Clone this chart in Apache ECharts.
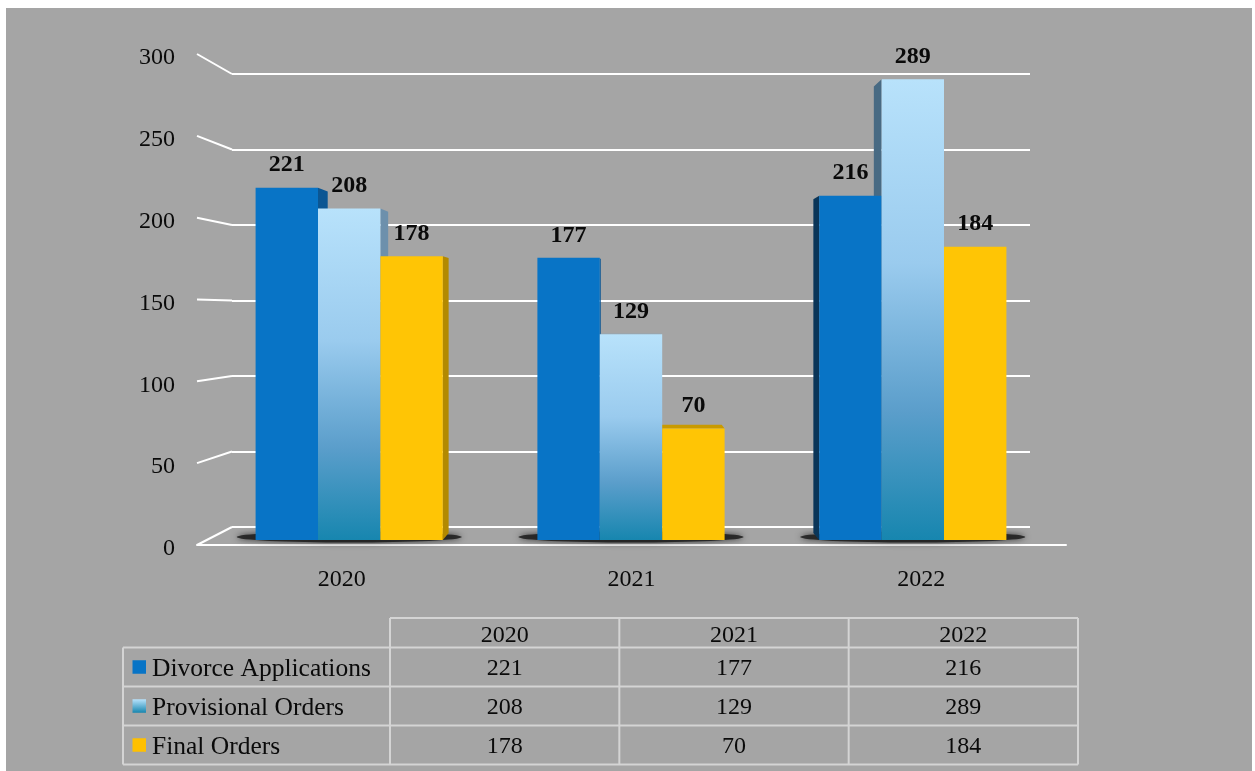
<!DOCTYPE html>
<html>
<head>
<meta charset="utf-8">
<title>Divorce Applications, Provisional and Final Orders</title>
<script src="https://cdn.jsdelivr.net/npm/echarts@6/dist/echarts.min.js"></script>
<style>
  html, body { margin: 0; padding: 0; background: #ffffff; }
  #panel { position: absolute; left: 6px; top: 8px; width: 1246px; height: 763px; background: #a5a5a5; }
  #chart { position: absolute; left: 0; top: 0; width: 1255px; height: 771px; }
</style>
</head>
<body>
<div id="panel"></div>
<div id="chart"></div>
<script>
// ---- data ----
const categories = ['2020', '2021', '2022'];
const seriesNames = ['Divorce Applications', 'Provisional Orders', 'Final Orders'];
const divorceApplications = [221, 177, 216];
const provisionalOrders = [208, 129, 289];
const finalOrders = [178, 70, 184];
const valueTicks = [0, 50, 100, 150, 200, 250, 300];

// ---- styling / layout ----
const FONT = "'Liberation Serif'";
const TEXT_COLOR = '#0a0a0a';
const GRID_FRONT = { left: 197, top: 54, width: 869, height: 491 };   // front edge of the floor / axis labels
const GRID_BACK = { left: 232, top: 74, width: 798, height: 453 };    // back wall with gridlines
const GRID_BARS = { left: 208.3, top: 61.8, width: 845.4, height: 478.2 }; // plane of the bar front faces
const GROUP_GAP = 0.3357;       // share of each category band left empty
const VANISH = [1, 142.4];      // vanishing point in bar-plane data coordinates
const DEPTH = 0.969;            // perspective shrink of the bar back faces

const palettes = [
  { front: '#0874c6', sideR: '#0b5693', sideL: '#0a3558', top: '#0a5a99', key: '#0874c6' },
  {
    front: { type: 'linear', x: 0, y: 0, x2: 0, y2: 1, colorStops: [
      { offset: 0, color: '#b8e2fb' }, { offset: 0.4, color: '#9acbee' },
      { offset: 0.72, color: '#5b9ecb' }, { offset: 1, color: '#1786af' } ] },
    sideR: '#6d90ac', sideL: '#486a83', top: '#7fa7c4',
    key: { type: 'linear', x: 0, y: 0, x2: 0, y2: 1, colorStops: [
      { offset: 0, color: '#b8e2fb' }, { offset: 1, color: '#1786af' } ] }
  },
  { front: '#ffc505', sideR: '#b38900', sideL: '#9c7700', top: '#c99a00', key: '#ffc000' }
];
const seriesValues = [divorceApplications, provisionalOrders, finalOrders];

function barRenderer(seriesIdx) {
  const pal = palettes[seriesIdx];
  return function (params, api) {
    const cat = api.value(0);
    const val = api.value(1);
    const band = api.size([1, 0])[0];
    const barW = band * (1 - GROUP_GAP) / 3;
    const base = api.coord([cat, 0]);
    const topPt = api.coord([cat, val]);
    const x0 = base[0] - 1.5 * barW + seriesIdx * barW;
    const x1 = x0 + barW;
    const yT = topPt[1];
    const yB = base[1];
    const vp = api.coord(VANISH);
    const back = (x, y) => [vp[0] + (x - vp[0]) * DEPTH, vp[1] + (y - vp[1]) * DEPTH];
    const children = [];
    if (x1 < vp[0]) {
      children.push({ type: 'polygon', z2: 1,
        shape: { points: [[x1, yT], back(x1, yT), back(x1, yB), [x1, yB]] },
        style: { fill: pal.sideR } });
    } else if (x0 > vp[0]) {
      children.push({ type: 'polygon', z2: 1,
        shape: { points: [[x0, yT], back(x0, yT), back(x0, yB), [x0, yB]] },
        style: { fill: pal.sideL } });
    }
    if (yT > vp[1]) {
      children.push({ type: 'polygon', z2: 1,
        shape: { points: [[x0, yT], [x1, yT], back(x1, yT), back(x0, yT)] },
        style: { fill: pal.top } });
    }
    children.push({ type: 'rect', z2: 5,
      shape: { x: x0, y: yT, width: barW, height: yB - yT },
      style: { fill: pal.front } });
    children.push({ type: 'text', z2: 10,
      style: { text: String(val), x: (x0 + x1) / 2, y: yT - 22.5,
        fill: TEXT_COLOR, fontFamily: FONT, fontSize: 24, fontWeight: 'bold',
        align: 'center', verticalAlign: 'middle' } });
    return { type: 'group', children: children };
  };
}

function shadowRenderer(params, api) {
  const cat = api.value(0);
  const band = api.size([1, 0])[0];
  const barW = band * (1 - GROUP_GAP) / 3;
  const base = api.coord([cat, 0]);
  return { type: 'ellipse', z2: 0,
    shape: { cx: base[0], cy: base[1] - 3, rx: 1.5 * barW + 19, ry: 5.5 },
    style: { fill: 'rgba(28,28,28,0.85)', shadowBlur: 6, shadowColor: 'rgba(0,0,0,0.8)' } };
}

const chart = echarts.init(document.getElementById('chart'), null, { renderer: 'canvas', width: 1255, height: 771 });

const axisText = { fontFamily: FONT, fontSize: 24, color: TEXT_COLOR };

const series = [{
  type: 'custom', name: 'floor', xAxisIndex: 2, yAxisIndex: 2,
  renderItem: shadowRenderer, silent: true,
  data: categories.map((c, i) => [i, 0])
}].concat(seriesNames.map((name, s) => ({
  type: 'custom', name: name, xAxisIndex: 2, yAxisIndex: 2,
  renderItem: barRenderer(s),
  encode: { x: 0, y: 1 },
  data: seriesValues[s].map((v, i) => [i, v])
})));

chart.setOption({
  animation: false,
  backgroundColor: 'transparent',
  grid: [GRID_FRONT, GRID_BACK, GRID_BARS].map(g => Object.assign({ containLabel: false }, g)),
  xAxis: [
    { gridIndex: 0, type: 'category', data: categories,
      axisLine: { lineStyle: { color: '#ffffff', width: 2 } },
      axisTick: { show: false }, splitLine: { show: false },
      axisLabel: Object.assign({ margin: 23 }, axisText) },
    { gridIndex: 1, type: 'category', data: categories, show: false },
    { gridIndex: 2, type: 'category', data: categories, show: false }
  ],
  yAxis: [
    { gridIndex: 0, type: 'value', min: valueTicks[0], max: valueTicks[valueTicks.length - 1], interval: 50,
      axisLine: { show: false }, axisTick: { show: false }, splitLine: { show: false },
      axisLabel: {
        margin: 22, formatter: '{t|{value}}',
        rich: { t: Object.assign({ padding: [8, 0, 0, 0] }, axisText) }
      } },
    { gridIndex: 1, type: 'value', min: valueTicks[0], max: valueTicks[valueTicks.length - 1], interval: 50,
      axisLine: { show: false }, axisTick: { show: false }, axisLabel: { show: false },
      splitLine: { lineStyle: { color: '#ffffff', width: 2 } } },
    { gridIndex: 2, type: 'value', min: valueTicks[0], max: valueTicks[valueTicks.length - 1], show: false }
  ],
  series: series
});

// ---- side wall lines and data table (drawn after axes are laid out) ----
const graphics = [];
valueTicks.forEach(v => {
  const yF = chart.convertToPixel({ yAxisIndex: 0 }, v);
  const yBk = chart.convertToPixel({ yAxisIndex: 1 }, v);
  graphics.push({ type: 'line', silent: true,
    shape: { x1: GRID_FRONT.left, y1: yF, x2: GRID_BACK.left, y2: yBk },
    style: { stroke: '#ffffff', lineWidth: 2 } });
});

const TABLE = { left: 123, labelRight: 390, right: 1078, headTop: 618, headH: 29.5, rowH: 39 };
const LINE = { stroke: '#d4d4d4', lineWidth: 2 };
const colW = (TABLE.right - TABLE.labelRight) / categories.length;
const rowsTop = TABLE.headTop + TABLE.headH;
const tableBottom = rowsTop + TABLE.rowH * seriesNames.length;
function hLine(x1, x2, y) { graphics.push({ type: 'line', silent: true, shape: { x1, y1: y, x2, y2: y }, style: LINE }); }
function vLine(x, y1, y2) { graphics.push({ type: 'line', silent: true, shape: { x1: x, y1, x2: x, y2 }, style: LINE }); }
function cellText(text, x, y, align, size) {
  graphics.push({ type: 'text', silent: true, x: x, y: y + 2,
    style: { text: text, fill: TEXT_COLOR, fontFamily: FONT, fontSize: size || 24, align: align, verticalAlign: 'middle' } });
}
hLine(TABLE.labelRight, TABLE.right, TABLE.headTop);
for (let r = 0; r <= seriesNames.length; r++) hLine(TABLE.left, TABLE.right, rowsTop + r * TABLE.rowH);
vLine(TABLE.left, rowsTop, tableBottom);
for (let c = 0; c <= categories.length; c++) vLine(TABLE.labelRight + c * colW, TABLE.headTop, tableBottom);

categories.forEach((cat, c) => cellText(cat, TABLE.labelRight + (c + 0.5) * colW, TABLE.headTop + TABLE.headH / 2 + 1, 'center'));
seriesNames.forEach((name, r) => {
  const yc = rowsTop + (r + 0.5) * TABLE.rowH;
  graphics.push({ type: 'rect', silent: true, shape: { x: 132.5, y: yc - 6.75, width: 13.5, height: 13.5 },
    style: { fill: palettes[r].key } });
  cellText(name, 152, yc, 'left', 25.5);
  seriesValues[r].forEach((v, c) => cellText(String(v), TABLE.labelRight + (c + 0.5) * colW, yc, 'center'));
});

chart.setOption({ graphic: { elements: graphics } });
</script>
</body>
</html>
